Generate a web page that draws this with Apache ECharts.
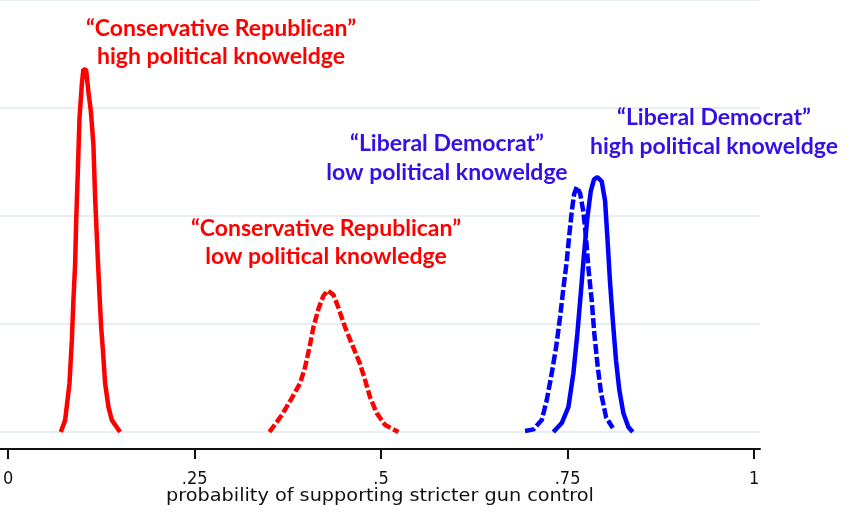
<!DOCTYPE html>
<html><head><meta charset="utf-8">
<script src="https://cdn.jsdelivr.net/npm/echarts@6/dist/echarts.min.js"></script>
<style>html,body{margin:0;padding:0;background:#fff}#c{width:852px;height:512px}</style>
</head><body><div id="c"></div>
<script>
// x: probability, y: density
const crHighX = [0.0706,0.0764,0.0822,0.0854,0.0875,0.0898,0.0912,0.0934,0.0956,0.0988,0.1009,0.1046,0.1076,0.1109,0.1143,0.1166,0.1197,0.1224,0.1247,0.1270,0.1300,0.1345,0.1390,0.1501];
const crHighY = [0,1.1,4.5,8.5,12.2,15.6,19.5,24.1,29.0,32.2,33.6,33.5,31.5,29.7,26.6,21.7,16.8,12.8,9.7,7.6,4.5,2.3,1.1,0];
const crLowX = [0.3503,0.3669,0.3803,0.3914,0.3981,0.4039,0.4093,0.4160,0.4226,0.4285,0.4361,0.4428,0.4517,0.4629,0.4718,0.4786,0.4853,0.4942,0.5054,0.5232];
const crLowY = [0,1.57,3.13,4.52,6.0,7.8,9.7,11.4,12.6,13.1,12.7,11.5,9.7,7.8,6.3,4.8,3.2,1.75,0.65,0];
const ldLowX = [0.6930,0.7042,0.7154,0.7221,0.7288,0.7346,0.7399,0.7444,0.7489,0.7524,0.7556,0.7587,0.7623,0.7668,0.7712,0.7748,0.7779,0.7824,0.7859,0.7905,0.7949,0.8016,0.8106];
const ldLowY = [0.1,0.24,1.1,2.95,5.44,7.83,10.6,13.3,15.8,18.3,20.4,22.0,22.7,22.1,20.4,18.0,15.2,12.2,9.1,6.0,3.6,1.38,0.37];
const ldHighX = [0.7310,0.7422,0.7511,0.7578,0.7631,0.7677,0.7721,0.7765,0.7811,0.7855,0.7899,0.7958,0.8003,0.8034,0.8070,0.8106,0.8150,0.8194,0.8248,0.8315,0.8374];
const ldHighY = [0,0.83,2.3,5.44,9.1,12.8,16.5,19.8,22.3,23.4,23.6,23.2,21.4,18.0,13.8,10.4,6.6,3.9,1.75,0.46,0];
const tickValues = [0,0.25,0.5,0.75,1];
const tickLabels = ['0','.25','.5','.75','1'];
const xTitle = 'probability of supporting stricter gun control';

const zip = (xs, ys) => xs.map((x, i) => [x, ys[i]]);
const RED = '#ff0000', BLUE = '#0000ff', BLUE_TXT = '#3311e6';
const annFont = 'bold 23px Lato';
function ann(x, y, text, color) {
  return {type:'text', x:x, y:y, z:100, style:{text:text, fill:color, font:annFont, align:'center', verticalAlign:'middle'}};
}
const axisFont = 'DejaVu Sans Condensed';
const chart = echarts.init(document.getElementById('c'), null, {renderer:'canvas'});
chart.setOption({
  animation:false,
  backgroundColor:'#ffffff',
  grid:{left:0, right:92, top:-2, bottom:80, containLabel:false},
  xAxis:{
    type:'value', min:-0.0107, max:1.008, offset:17,
    axisLine:{show:true, onZero:false, lineStyle:{color:'#111', width:2}},
    axisTick:{show:true, customValues:tickValues, length:10, lineStyle:{color:'#111', width:2}},
    axisLabel:{show:true, customValues:tickValues, margin:21, fontFamily:axisFont, fontSize:18, color:'#111',
      formatter:(v)=>{const i = tickValues.findIndex(t=>Math.abs(t-v)<1e-9); return i>=0?tickLabels[i]:'';}},
    splitLine:{show:false}
  },
  yAxis:{
    type:'value', min:0, max:40, interval:10,
    axisLine:{show:false}, axisTick:{show:false}, axisLabel:{show:false},
    splitLine:{show:true, lineStyle:{color:'#e6eef2', width:2}}
  },
  series:[
    {type:'line', data:zip(crHighX, crHighY), showSymbol:false, lineStyle:{color:RED, width:4.5}},
    {type:'line', data:zip(crLowX, crLowY), showSymbol:false, lineStyle:{color:RED, width:4.5, type:[9,3]}},
    {type:'line', data:zip(ldLowX, ldLowY), showSymbol:false, lineStyle:{color:BLUE, width:4.5, type:[10,3]}},
    {type:'line', data:zip(ldHighX, ldHighY), showSymbol:false, lineStyle:{color:BLUE, width:4.5}}
  ],
  graphic:[
    {type:'text', x:380, y:496, z:100, scaleX:1.19, style:{text:xTitle, fill:'#111', font:'18px "DejaVu Sans Condensed"', align:'center', verticalAlign:'middle'}},
    ann(221, 29, '\u201cConservative Republican\u201d', RED),
    ann(221, 57, 'high political knoweldge', RED),
    ann(326, 229, '\u201cConservative Republican\u201d', RED),
    ann(326, 257, 'low political knowledge', RED),
    ann(447, 144, '\u201cLiberal Democrat\u201d', BLUE_TXT),
    ann(447, 173, 'low political knoweldge', BLUE_TXT),
    ann(714, 118, '\u201cLiberal Democrat\u201d', BLUE_TXT),
    ann(714, 147, 'high political knoweldge', BLUE_TXT)
  ]
});
</script></body></html>
